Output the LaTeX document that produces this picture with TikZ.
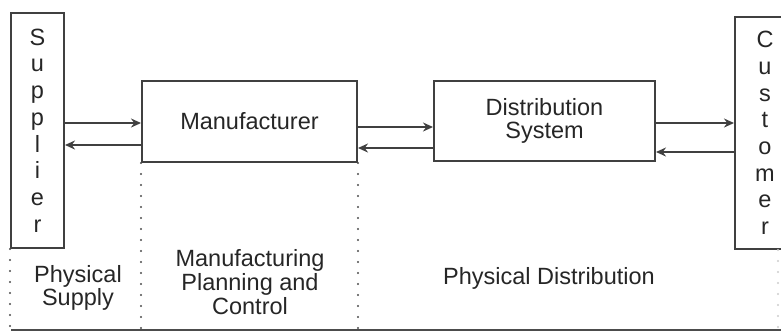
\documentclass[tikz,border=0pt]{standalone}
\usepackage{fontspec}
\setmainfont{Liberation Sans}
\usetikzlibrary{arrows.meta}
\newcommand{\lbl}{\fontsize{11.75}{11.8}\selectfont}

\begin{document}
\begin{tikzpicture}[x=0.5pt,y=-0.5pt,
    box/.style={draw=black!75,line width=1pt,inner sep=0pt,text=black!85,
      font=\lbl,align=center},
    flow/.style={draw=black!75,line width=0.9pt,-{Stealth[length=5pt,width=4.5pt]}},
    sep/.style={draw=black!70,line width=1.2pt,line cap=round,dash pattern=on 0pt off 5.5pt},
    note/.style={text=black!85,font=\lbl,align=center,inner sep=0pt}]
   \useasboundingbox (0,0) rectangle (781,333);
   % the four parties
   \node[box,minimum width=26.5pt,minimum height=117.5pt,
     font=\fontsize{11.75}{13.35}\selectfont] (supplier) at (37.5,130.5)
     {S\\u\\p\\p\\l\\i\\e\\r};
   \node[box,minimum width=107.5pt,minimum height=40.5pt] (manu) at (249.5,121.5)
     {Manufacturer};
   \node[box,minimum width=110.5pt,minimum height=40pt] (distr) at (544.5,121)
     {Distribution\\System};
   \node[box,minimum width=30pt,minimum height=116pt,
     font=\fontsize{11.75}{13.35}\selectfont] (customer) at (765,133)
     {C\\u\\s\\t\\o\\m\\e\\r};
   % flows between them
   \draw[flow] (supplier.east |- 0,123) -- (manu.west |- 0,123);
   \draw[flow] (manu.west |- 0,145) -- (supplier.east |- 0,145);
   \draw[flow] (manu.east |- 0,127) -- (distr.west |- 0,127);
   \draw[flow] (distr.west |- 0,148) -- (manu.east |- 0,148);
   \draw[flow] (distr.east |- 0,123) -- (customer.west |- 0,123);
   \draw[flow] (customer.west |- 0,152) -- (distr.east |- 0,152);
   % base line and dotted borders
   \coordinate (base) at (11,330);
   \draw[draw=black!70,line width=0.8pt] (base) -- (781,330);
   \draw[sep] (supplier.south west) -- (supplier.south west |- base);
   \draw[sep] (manu.south west) -- (manu.south west |- base);
   \draw[sep] (manu.south east) -- (manu.south east |- base);
   \draw[sep,draw=black!20] (778,250) -- (778,330);
   % areas
   \node[note] (supply) at (78,288) {Physical\\Supply};
   \node[note] (mpc) at (250,282) {Manufacturing\\Planning and\\Control};
   \node[note] (pdist) at (549,278) {Physical Distribution};
\end{tikzpicture}
\end{document}
